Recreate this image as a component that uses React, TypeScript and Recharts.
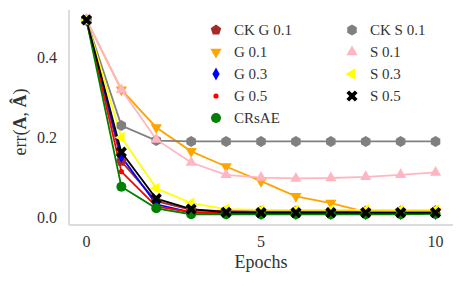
import { LineChart, Line, XAxis, YAxis } from 'recharts';

const epochs = [0, 1, 2, 3, 4, 5, 6, 7, 8, 9, 10];
const ckG01 = [0.495, 0.14, 0.04, 0.018, 0.015, 0.015, 0.015, 0.015, 0.015, 0.015, 0.016];
const g01 = [0.495, 0.32, 0.225, 0.165, 0.127, 0.09, 0.052, 0.035, 0.013, 0.014, 0.014];
const g03 = [0.495, 0.152, 0.032, 0.012, 0.01, 0.009, 0.009, 0.009, 0.009, 0.009, 0.009];
const g05 = [0.495, 0.114, 0.027, 0.012, 0.01, 0.01, 0.01, 0.01, 0.01, 0.01, 0.01];
const crsae = [0.495, 0.076, 0.022, 0.007, 0.007, 0.007, 0.007, 0.007, 0.007, 0.007, 0.008];
const ckS01 = [0.495, 0.23, 0.192, 0.19, 0.19, 0.19, 0.19, 0.19, 0.19, 0.19, 0.19];
const s01 = [0.495, 0.32, 0.195, 0.137, 0.106, 0.099, 0.097, 0.098, 0.101, 0.106, 0.112];
const s03 = [0.495, 0.2, 0.072, 0.035, 0.02, 0.018, 0.018, 0.018, 0.018, 0.018, 0.018];
const s05 = [0.495, 0.163, 0.046, 0.02, 0.012, 0.011, 0.011, 0.011, 0.011, 0.011, 0.011];
const xTicks = [0, 5, 10];
const yTicks = [0, 0.2, 0.4];

const series = [
  { key: 'ckG01', name: 'CK G 0.1', values: ckG01, color: '#a52a2a', shape: 'pentagon' },
  { key: 'g01', name: 'G 0.1', values: g01, color: '#ffa500', shape: 'triDown' },
  { key: 'g03', name: 'G 0.3', values: g03, color: '#0000ff', shape: 'diamond' },
  { key: 'g05', name: 'G 0.5', values: g05, color: '#ff0000', shape: 'dot' },
  { key: 'crsae', name: 'CRsAE', values: crsae, color: '#008000', shape: 'circle' },
  { key: 'ckS01', name: 'CK S 0.1', values: ckS01, color: '#808080', shape: 'hexagon' },
  { key: 's01', name: 'S 0.1', values: s01, color: '#ffb6c1', shape: 'triUp' },
  { key: 's03', name: 'S 0.3', values: s03, color: '#ffff00', shape: 'triLeft' },
  { key: 's05', name: 'S 0.5', values: s05, color: '#000000', shape: 'x' },
];

const data = epochs.map((e, i) => {
  const row: Record<string, number> = { epoch: e };
  series.forEach((s) => (row[s.key] = s.values[i]));
  return row;
});

const FONT = "'Liberation Serif', 'Times New Roman', serif";
const TEXT = '#333';
const textStyle = (size: number) => ({ fontFamily: FONT, fontSize: size, fill: TEXT });

function poly(cx: number, cy: number, r: number, n: number, rot: number) {
  const pts: string[] = [];
  for (let i = 0; i < n; i++) {
    const a = rot + (i * 2 * Math.PI) / n;
    pts.push(`${cx + r * Math.cos(a)},${cy + r * Math.sin(a)}`);
  }
  return pts.join(' ');
}

function xShape(cx: number, cy: number, s: number) {
  const w = 0.32;
  const base = [
    [w, 1], [w, w], [1, w], [1, -w], [w, -w], [w, -1],
    [-w, -1], [-w, -w], [-1, -w], [-1, w], [-w, w], [-w, 1],
  ];
  const c = Math.SQRT1_2;
  return base
    .map(([x, y]) => `${cx + s * (x * c - y * c)},${cy + s * (x * c + y * c)}`)
    .join(' ');
}

function Marker({ shape, color, cx, cy }: { shape: string; color: string; cx: number; cy: number }) {
  const up = -Math.PI / 2;
  switch (shape) {
    case 'pentagon':
      return <polygon points={poly(cx, cy, 5.5, 5, up)} fill={color} />;
    case 'triDown':
      return <polygon points={poly(cx, cy, 6.5, 3, Math.PI / 2)} fill={color} />;
    case 'triUp':
      return <polygon points={poly(cx, cy, 6.5, 3, up)} fill={color} />;
    case 'triLeft':
      return <polygon points={poly(cx, cy, 6.5, 3, Math.PI)} fill={color} />;
    case 'diamond':
      return <polygon points={`${cx},${cy - 6.5} ${cx + 3.6},${cy} ${cx},${cy + 6.5} ${cx - 3.6},${cy}`} fill={color} />;
    case 'dot':
      return <circle cx={cx} cy={cy} r={2.6} fill={color} />;
    case 'circle':
      return <circle cx={cx} cy={cy} r={5} fill={color} />;
    case 'hexagon':
      return <polygon points={poly(cx, cy, 5.5, 6, up)} fill={color} />;
    default:
      return <polygon points={xShape(cx, cy, 6)} fill={color} />;
  }
}

function XTick(p: any) {
  return (
    <text x={p.x} y={p.y} dy="0.75em" textAnchor="middle" style={textStyle(16)}>
      {p.payload.value}
    </text>
  );
}

function YTick(p: any) {
  return (
    <text x={p.x} y={p.y} dy="0.35em" textAnchor="end" style={textStyle(16)}>
      {Number(p.payload.value).toFixed(1)}
    </text>
  );
}

function LegendBox() {
  const renderCol = (items: typeof series) => (
    <div style={{ display: 'flex', flexDirection: 'column' }}>
      {items.map((s) => (
        <div key={s.key} style={{ display: 'flex', alignItems: 'center', height: 22 }}>
          <svg width={22} height={22} style={{ marginRight: 7 }}>
            <Marker shape={s.shape} color={s.color} cx={11} cy={11} />
          </svg>
          <span style={{ fontFamily: FONT, fontSize: 15, color: TEXT, whiteSpace: 'nowrap' }}>{s.name}</span>
        </div>
      ))}
    </div>
  );
  return (
    <div style={{ position: 'absolute', left: 205, top: 19, display: 'flex' }}>
      <div style={{ width: 136 }}>{renderCol(series.slice(0, 5))}</div>
      <div>{renderCol(series.slice(5))}</div>
    </div>
  );
}

export default function App() {
  return (
    <div style={{ position: 'absolute', left: 0, top: 0, width: 463, height: 286, background: '#fff', fontFamily: FONT }}>
      <LineChart width={463} height={286} data={data} margin={{ top: 10, right: 10, bottom: 21, left: 0 }}>
        <XAxis
          dataKey="epoch"
          type="number"
          domain={[-0.5, 10.5]}
          ticks={xTicks}
          tickLine={false}
          tickMargin={4}
          height={40}
          axisLine={{ stroke: '#dcdcdc', strokeWidth: 2 }}
          tick={XTick}
          label={{
            content: (p: any) => (
              <text x={p.viewBox.x + p.viewBox.width / 2} y={268} textAnchor="middle" style={textStyle(18)}>
                Epochs
              </text>
            ),
          }}
        />
        <YAxis
          type="number"
          domain={[-0.02, 0.52]}
          ticks={yTicks}
          tickLine={false}
          tickMargin={6}
          width={69}
          axisLine={{ stroke: '#dcdcdc', strokeWidth: 2 }}
          tick={YTick}
          label={{
            content: () => (
              <text x={26} y={122} transform="rotate(-90 26 122)" textAnchor="middle" style={textStyle(18)}>
                err(<tspan fontWeight="bold">A</tspan>, <tspan fontWeight="bold">Â</tspan>)
              </text>
            ),
          }}
        />
        {series.map((s) => (
          <Line
            key={s.key}
            dataKey={s.key}
            name={s.name}
            stroke={s.color}
            strokeWidth={1.8}
            isAnimationActive={false}
            dot={(p: any) => <Marker key={`${s.key}-${p.index}`} shape={s.shape} color={s.color} cx={p.cx} cy={p.cy} />}
            activeDot={false}
          />
        ))}
      </LineChart>
      <LegendBox />
    </div>
  );
}
